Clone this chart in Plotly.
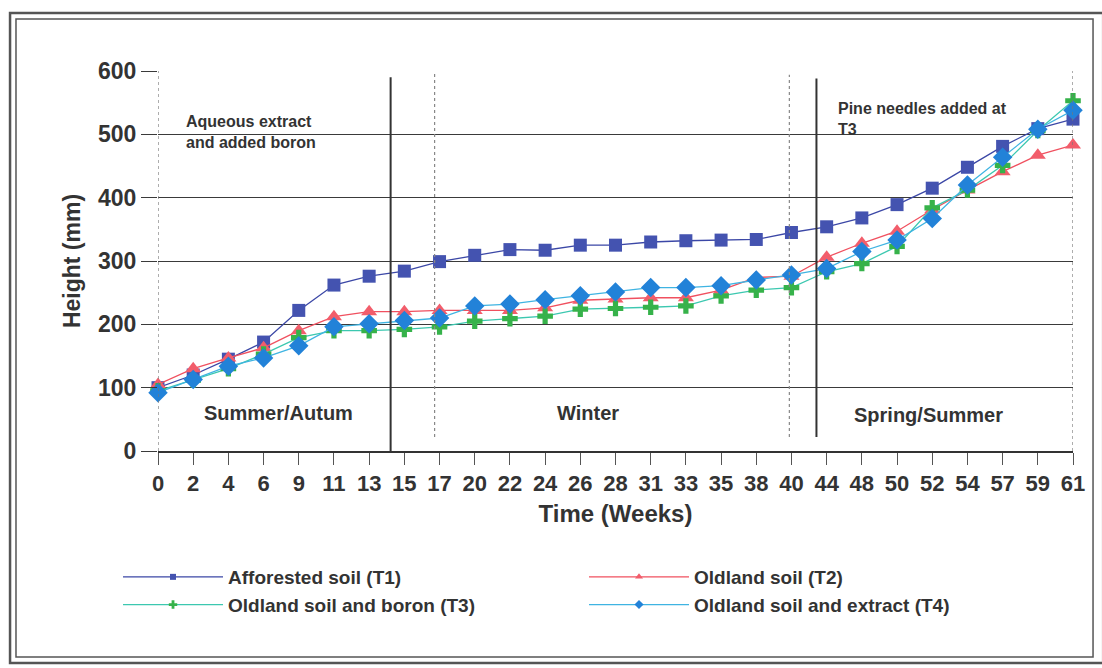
import plotly.graph_objects as go

weeks = ["0", "2", "4", "6", "9", "11", "13", "15", "17", "20", "22", "24", "26", "28",
         "31", "33", "35", "38", "40", "44", "48", "50", "52", "54", "57", "59", "61"]

t1_afforested = [100, 120, 145, 172, 222, 262, 276, 284, 299, 309, 318, 317, 325, 325,
                 330, 332, 333, 334, 345, 354, 368, 389, 415, 448, 481, 509, 524]
t2_oldland = [105, 130, 147, 163, 190, 212, 220, 220, 222, 222, 222, 226, 238, 240,
              242, 242, 254, 274, 276, 306, 328, 347, 381, 412, 441, 467, 483]
t3_boron = [95, 112, 130, 153, 179, 190, 190, 192, 196, 205, 209, 213, 224, 225,
            227, 229, 245, 254, 258, 283, 296, 323, 384, 412, 451, 506, 553]
t4_extract = [92, 113, 134, 147, 166, 196, 201, 206, 210, 229, 232, 239, 245, 251,
              258, 258, 261, 270, 278, 288, 315, 333, 367, 420, 464, 508, 538]

series_names = ["Afforested soil (T1)", "Oldland soil (T2)",
                "Oldland soil and boron (T3)", "Oldland soil and extract (T4)"]

FONT = "Arial, Liberation Sans, sans-serif"
TXT = "#333333"
BOLD = "bold"

styles = [
    dict(line="#3b47a6", marker="#4453b0", symbol="square", size=13, lsize=6),
    dict(line="#f0505f", marker="#f25d6b", symbol="triangle-up", size=14, lsize=7),
    dict(line="#3cc8b0", marker="#36b24a", symbol="cross", size=13, lsize=7),
    dict(line="#3fb4e2", marker="#2282d8", symbol="diamond", size=15, lsize=7),
]
values = [t1_afforested, t2_oldland, t3_boron, t4_extract]
xi = list(range(len(weeks)))

fig = go.Figure()
for name, vals, st in zip(series_names, values, styles):
    fig.add_trace(go.Scatter(
        x=xi, y=vals, mode="lines+markers", name=name, showlegend=False,
        legendgroup=name, cliponaxis=False,
        line=dict(color=st["line"], width=1.3),
        marker=dict(color=st["marker"], symbol=st["symbol"], size=st["size"],
                    line=dict(width=0)),
    ))
for name, st in zip(series_names, styles):
    fig.add_trace(go.Scatter(
        x=[None], y=[None], mode="lines+markers", name=name, legendgroup=name,
        line=dict(color=st["line"], width=1.3),
        marker=dict(color=st["marker"], symbol=st["symbol"], size=st["lsize"]),
    ))

shapes = []
for xv in [0, 26]:
    shapes.append(dict(type="line", xref="x", yref="y", x0=xv, x1=xv, y0=0, y1=600,
                       line=dict(color="#777777", width=1.2, dash="dot")))
shapes.append(dict(type="line", xref="x", yref="y", x0=6.61, x1=6.61, y0=-6, y1=590,
                   line=dict(color="#333333", width=2)))
shapes.append(dict(type="line", xref="x", yref="y", x0=7.86, x1=7.86, y0=22, y1=597,
                   line=dict(color="#888888", width=1.2, dash="dot")))
shapes.append(dict(type="line", xref="x", yref="y", x0=17.94, x1=17.94, y0=22, y1=594,
                   line=dict(color="#888888", width=1.2, dash="dot")))
shapes.append(dict(type="line", xref="x", yref="y", x0=18.71, x1=18.71, y0=22, y1=588,
                   line=dict(color="#333333", width=2)))
shapes.append(dict(type="rect", xref="paper", yref="paper",
                   x0=-0.1617, x1=1.033, y0=-0.5579, y1=1.1526,
                   line=dict(color="#555555", width=2.5)))
shapes.append(dict(type="rect", xref="paper", yref="paper",
                   x0=-0.1552, x1=1.0219, y0=-0.5421, y1=1.1368,
                   line=dict(color="#555555", width=1.5)))

annotations = [
    dict(x=0.74, y=504, xref="x", yref="y", text="Aqueous extract<br>and added boron",
         showarrow=False, xanchor="left", yanchor="middle", align="left",
         font=dict(family=FONT, size=16, color=TXT, weight=BOLD)),
    dict(x=19.27, y=525, xref="x", yref="y", text="Pine needles added at<br>T3",
         showarrow=False, xanchor="left", yanchor="middle", align="left",
         font=dict(family=FONT, size=16, color=TXT, weight=BOLD)),
    dict(x=3.41, y=60, xref="x", yref="y", text="Summer/Autum", showarrow=False,
         font=dict(family=FONT, size=20, color=TXT, weight=BOLD)),
    dict(x=12.22, y=60, xref="x", yref="y", text="Winter", showarrow=False,
         font=dict(family=FONT, size=20, color=TXT, weight=BOLD)),
    dict(x=21.88, y=57, xref="x", yref="y", text="Spring/Summer", showarrow=False,
         font=dict(family=FONT, size=20, color=TXT, weight=BOLD)),
]

fig.update_layout(
    width=1102, height=668,
    margin=dict(l=158, r=29, t=71, b=217),
    paper_bgcolor="white", plot_bgcolor="white",
    font=dict(family=FONT, color=TXT),
    shapes=shapes, annotations=annotations,
    showlegend=True,
    legend=dict(orientation="h", x=-0.0437, y=-0.2816, xanchor="left", yanchor="top",
                itemwidth=100, entrywidth=351, entrywidthmode="pixels", traceorder="normal",
                font=dict(family=FONT, size=19, color=TXT, weight=BOLD),
                bgcolor="rgba(0,0,0,0)"),
)
fig.update_xaxes(
    range=[0, 26], tickmode="array", tickvals=xi, ticktext=weeks,
    showgrid=False, zeroline=False, showline=True, linecolor="#333333", linewidth=1.5,
    ticks="outside", ticklen=12, tickcolor="#555555", tickwidth=1.2,
    tickfont=dict(family=FONT, size=22, color=TXT, weight=BOLD),
    title=dict(text="Time (Weeks)", standoff=10,
               font=dict(family=FONT, size=24, color=TXT, weight=BOLD)),
)
fig.update_yaxes(
    range=[0, 600], tickmode="linear", tick0=0, dtick=100,
    showgrid=True, gridcolor="#3a3a3a", gridwidth=1, zeroline=False, showline=False,
    ticks="outside", ticklen=16, tickcolor="#3a3a3a", tickwidth=1,
    tickfont=dict(family=FONT, size=23, color=TXT, weight=BOLD),
    title=dict(text="Height (mm)", standoff=10,
               font=dict(family=FONT, size=23, color=TXT, weight=BOLD)),
)

fig.write_html("out.html")
